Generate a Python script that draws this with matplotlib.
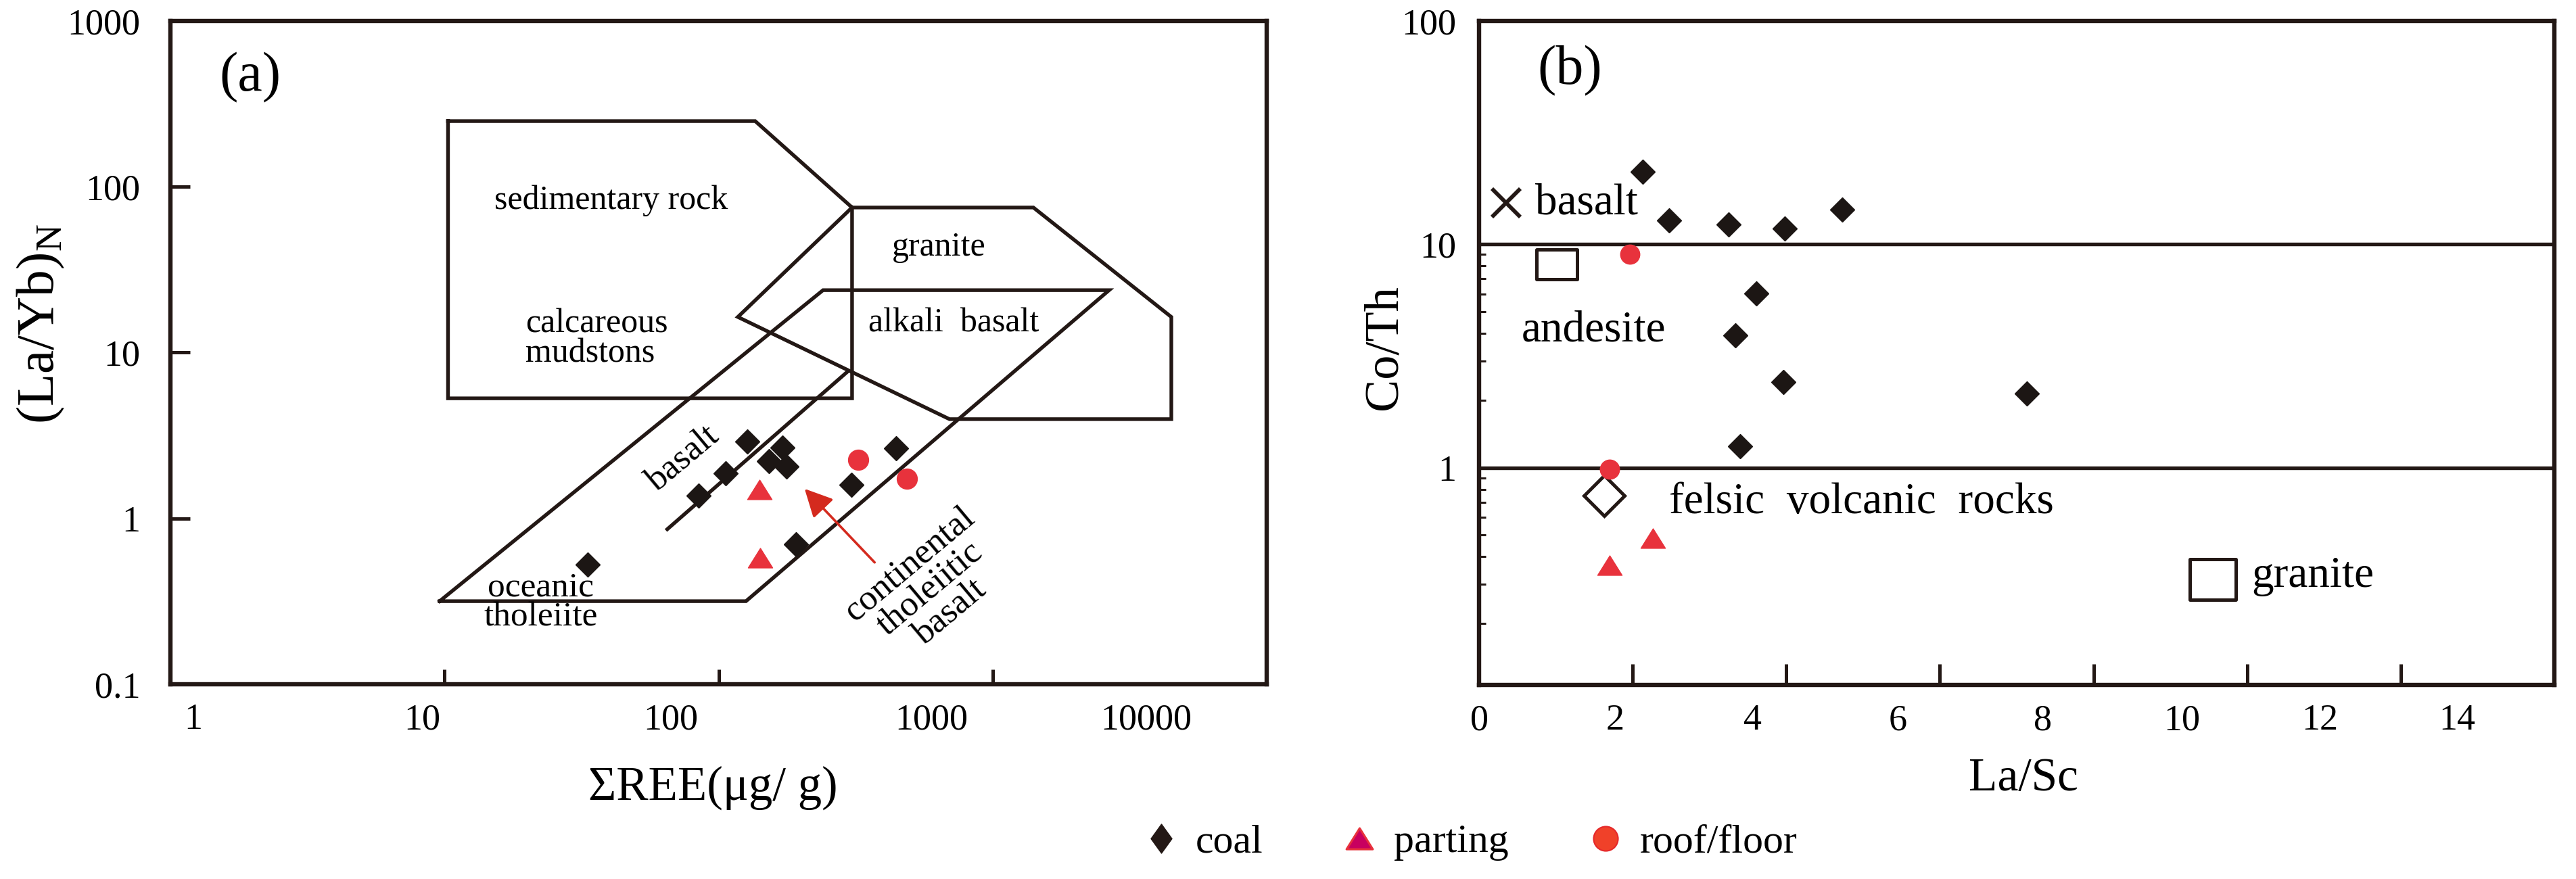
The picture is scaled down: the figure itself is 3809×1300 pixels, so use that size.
import matplotlib
matplotlib.use("Agg")
import matplotlib.pyplot as plt
from matplotlib.lines import Line2D
from matplotlib.path import Path
from matplotlib.ticker import NullFormatter

plt.rcParams['font.family'] = ['Liberation Serif', 'DejaVu Serif']
plt.rcParams['mathtext.fontset'] = 'custom'
plt.rcParams['mathtext.rm'] = 'Liberation Serif'

# ---- panel (a): (La/Yb)N vs sum REE ----
coal_ree = [127.3, 170.8, 152.5, 177.3, 106.3, 84.7, 444.4, 305.9, 191.3, 33.3]
coal_layb = [2.91, 2.68, 2.22, 2.06, 1.87, 1.37, 2.64, 1.60, 0.698, 0.527]
parting_ree = [140.8, 141.8]
parting_layb = [1.50, 0.579]
roof_ree = [322.7, 486.7]
roof_layb = [2.26, 1.74]

sed_field = [(10.3, 249), (136, 249), (307, 75), (307, 5.3), (10.3, 5.3)]
granite_field = [(307, 75), (1408, 75), (4488, 16.4), (4488, 3.97), (696, 3.97), (117.6, 16.4)]
basalt_field = [(9.6, 0.317), (240.6, 23.8), (2661, 23.8), (125.9, 0.317)]
basalt_divide = [(65.0, 0.861), (296.9, 7.73)]
arrow_tail = (371, 0.543)
arrow_head = (206, 1.51)

a_xlabels = ['1', '10', '100', '1000', '10000']
a_xlabel_pos = [1.21, 8.3, 67, 597, 3637]
a_xmarks = [10, 100, 1000]
a_ylabels = ['0.1', '1', '10', '100', '1000']
a_ylabel_pos = [0.1, 1, 10, 100, 1000]

# ---- panel (b): Co/Th vs La/Sc ----
coal_lasc = [2.13, 2.47, 3.25, 3.98, 4.73, 3.61, 3.34, 3.96, 3.40, 7.13]
coal_coth = [21.2, 12.8, 12.3, 11.8, 14.3, 6.01, 3.90, 2.42, 1.25, 2.15]
parting_lasc = [1.70, 2.26]
parting_coth = [0.365, 0.483]
roof_lasc = [1.96, 1.70]
roof_coth = [9.01, 0.98]

rock_names = ['basalt', 'andesite', 'felsic  volcanic  rocks', 'granite']
rock_lasc = [0.35, 1.01, 1.63, 9.55]
rock_coth = [15.3, 8.11, 0.75, 0.315]

b_xlabels = ['0', '2', '4', '6', '8', '10', '12', '14']
b_xlabel_pos = [0, 1.77, 3.56, 5.45, 7.34, 9.15, 10.95, 12.73]
b_xmarks = [2, 4, 6, 8, 10, 12]
b_ylabels = ['1', '10', '100']
b_ylabel_pos = [1, 10, 100]
b_yminor = [0.2, 0.3, 0.4, 0.5, 0.6, 0.7, 0.8, 0.9, 2, 3, 4, 5, 6, 7, 8, 9]

ink = '#231815'
red = '#e8323c'


def closed_marker(verts):
    codes = [Path.MOVETO] + [Path.LINETO] * (len(verts) - 1) + [Path.CLOSEPOLY]
    return Path(list(verts) + [(0, 0)], codes)


tri_mark = closed_marker([(-1, -0.8), (1, -0.8), (0, 0.8)])
thin_diamond = closed_marker([(0, 1), (0.72, 0), (0, -1), (-0.72, 0)])
rock_markers = ['x',
                closed_marker([(-1, -0.73), (1, -0.73), (1, 0.73), (-1, 0.73)]),
                'D',
                closed_marker([(-1, -0.88), (1, -0.88), (1, 0.88), (-1, 0.88)])]
rock_sizes = [30, 43, 31, 49]

fig = plt.figure(figsize=(38.09, 13.0), dpi=100)
ax1 = fig.add_axes([0.06616, 0.22154, 0.42557, 0.75462])
ax2 = fig.add_axes([0.57417, 0.22077, 0.41743, 0.75538])

for ax in (ax1, ax2):
    for sp in ax.spines.values():
        sp.set_linewidth(4.6)
        sp.set_color(ink)

# ---------------- (a) ----------------
ax1.set_xscale('log')
ax1.set_yscale('log')
ax1.set_xlim(1, 1e4)
ax1.set_ylim(0.1, 1000)

for poly in (sed_field, granite_field, basalt_field):
    xs, ys = zip(*(poly + poly[:1]))
    ax1.plot(xs, ys, color=ink, lw=3.9, solid_joinstyle='miter')
xs, ys = zip(*basalt_divide)
ax1.plot(xs, ys, color=ink, lw=3.9)

ax1.annotate('', xy=arrow_head, xytext=arrow_tail,
             arrowprops=dict(arrowstyle='-|>,head_length=0.6,head_width=0.3',
                             color='#d42a1e', lw=2.6, mutation_scale=42,
                             shrinkA=0, shrinkB=0))

ax1.plot(coal_ree, coal_layb, ls='none', marker='D', ms=18.5, color='#1c1614', zorder=5)
ax1.plot(parting_ree, parting_layb, ls='none', marker=tri_mark, ms=26, color=red, zorder=5)
ax1.plot(roof_ree, roof_layb, ls='none', marker='o', ms=21.5, color=red, zorder=5)

ax1.set_xticks(a_xlabel_pos, a_xlabels)
ax1.set_xticks(a_xmarks, minor=True)
ax1.xaxis.set_minor_formatter(NullFormatter())
ax1.tick_params(axis='x', which='major', length=0, pad=20, labelsize=39)
ax1.tick_params(axis='x', which='minor', direction='in', length=16, width=3.6, color=ink)
ax1.set_yticks(a_ylabel_pos, a_ylabels)
ax1.yaxis.set_minor_locator(plt.NullLocator())
ax1.tick_params(axis='y', which='major', direction='in', length=21, width=3.6,
                color=ink, pad=32, labelsize=39)

ax1.set_xlabel('\u03a3REE(\u03bcg/ g)', fontsize=51)
ax1.xaxis.set_label_coords(0.495, -0.156)
ax1.xaxis.label.set_va('center')
ax1.set_ylabel('(La/Yb)$_{\\rm N}$', fontsize=57)
ax1.yaxis.set_label_coords(-0.118, 0.544)
ax1.yaxis.label.set_va('center')

ax1.text(0.0728, 0.915, '(a)', transform=ax1.transAxes, fontsize=59,
         ha='center', va='center')
ax1.text(40.6, 82.3, 'sedimentary rock', fontsize=36, ha='center', va='center')
ax1.text(19.75, 12.1, 'calcareous\nmudstons', fontsize=36, ha='left', va='center',
         linespacing=0.95)
ax1.text(635.7, 43.1, 'granite', fontsize=36, ha='center', va='center')
ax1.text(720, 15.05, 'alkali  basalt', fontsize=36, ha='center', va='center')
ax1.text(74, 2.30, 'basalt', fontsize=38, ha='center', va='center',
         rotation=40, rotation_mode='anchor')
ax1.text(22.5, 0.311, 'oceanic\ntholeiite', fontsize=37, ha='center', va='center',
         linespacing=0.95)
ax1.text(590, 0.379, 'continental\ntholeiitic\nbasalt', fontsize=38, ha='center',
         va='center', rotation=40, rotation_mode='anchor', linespacing=0.95,
         multialignment='center')

# ---------------- (b) ----------------
ax2.set_yscale('log')
ax2.set_xlim(0, 14)
ax2.set_ylim(0.1064, 100)
ax2.axhline(10, color=ink, lw=3.9)
ax2.axhline(1, color=ink, lw=3.9)

for name, x, y, m, s in zip(rock_names, rock_lasc, rock_coth, rock_markers, rock_sizes):
    if m == 'x':
        ax2.plot(x, y, ls='none', marker='x', ms=s, mew=4.2, color=ink, zorder=5)
    else:
        ax2.plot(x, y, ls='none', marker=m, ms=s, mew=3.6, mfc='white', mec=ink, zorder=5)

ax2.text(0.73, 15.3, rock_names[0], fontsize=47, ha='left', va='center')
ax2.text(1.49, 4.12, rock_names[1], fontsize=47, ha='center', va='center')
ax2.text(2.47, 0.70, rock_names[2], fontsize=47, ha='left', va='center')
ax2.text(10.06, 0.327, rock_names[3], fontsize=47, ha='left', va='center')

ax2.plot(coal_lasc, coal_coth, ls='none', marker='D', ms=18.5, color='#1c1614', zorder=6)
ax2.plot(parting_lasc, parting_coth, ls='none', marker=tri_mark, ms=26, color=red, zorder=6)
ax2.plot(roof_lasc, roof_coth, ls='none', marker='o', ms=20.5, color=red, zorder=6)

ax2.set_xticks(b_xlabel_pos, b_xlabels)
ax2.set_xticks(b_xmarks, minor=True)
ax2.tick_params(axis='x', which='major', length=0, pad=20, labelsize=39)
ax2.tick_params(axis='x', which='minor', direction='in', length=22, width=3.6, color=ink)
ax2.set_yticks(b_ylabel_pos, b_ylabels)
ax2.set_yticks(b_yminor, minor=True)
ax2.yaxis.set_minor_formatter(NullFormatter())
ax2.tick_params(axis='y', which='major', length=0, pad=24, labelsize=39)
ax2.tick_params(axis='y', which='minor', direction='in', length=7, width=2.2, color=ink)

ax2.set_xlabel('La/Sc', fontsize=50)
ax2.xaxis.set_label_coords(0.506, -0.1415)
ax2.xaxis.label.set_va('center')
ax2.set_ylabel('Co/Th', fontsize=52)
ax2.yaxis.set_label_coords(-0.088, 0.509)
ax2.yaxis.label.set_va('center')

ax2.text(0.0843, 0.925, '(b)', transform=ax2.transAxes, fontsize=59,
         ha='center', va='center')

# ---------------- legend ----------------
handles = [
    Line2D([], [], ls='none', marker=thin_diamond, ms=31, mfc=ink, mec=ink),
    Line2D([], [], ls='none', marker=tri_mark, ms=28, mfc='#c8005f', mec=red, mew=2.2),
    Line2D([], [], ls='none', marker='o', ms=26, mfc='#f04129', mec='#e5282a', mew=1.5),
]
fig.legend(handles, ['coal', 'parting', 'roof/floor'], loc='center',
           bbox_to_anchor=(0.5703, 0.0415), ncol=3, frameon=False, fontsize=43,
           handlelength=1.0, handletextpad=0.35, columnspacing=1.9)

fig.savefig('out.png', dpi=100)
